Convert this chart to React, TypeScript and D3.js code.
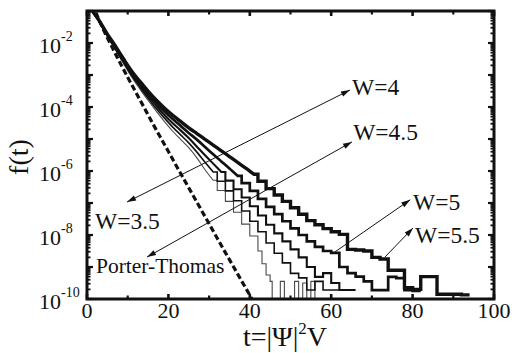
import React from 'react';
import * as d3 from 'd3';

// ---- data (t, log10 f); histogram bins of width 2 start at t ----
const xMajorTicks = [0, 20, 40, 60, 80, 100];
const xMinorTicks = [10, 30, 50, 70, 90];
const yLabelExponents = [-10, -8, -6, -4, -2];
const yDecades = [-10, -9, -8, -7, -6, -5, -4, -3, -2, -1];

const porterThomas: [number, number][] = [
  [1.5, -0.78], [2, -0.98], [3, -1.29], [4, -1.57], [5, -1.84], [6, -2.09], [8, -2.59], [10, -3.07],
  [12, -3.54], [14, -4.01], [16, -4.48], [18, -4.94], [20, -5.39], [22, -5.85], [24, -6.3], [26, -6.75],
  [28, -7.2], [30, -7.65], [32, -8.1], [34, -8.55], [36, -8.99], [38, -9.44], [40, -9.88], [41, -10.11],
];

const w55: [number, number][] = [
  [0, -0.9], [2, -1.3], [4, -1.72], [6, -2.1], [8, -2.5], [10, -2.88], [12, -3.2], [14, -3.5], [16, -3.78],
  [18, -4.03], [20, -4.25], [22, -4.45], [24, -4.65], [26, -4.83], [28, -5.01], [30, -5.19], [32, -5.37],
  [34, -5.55], [36, -5.73], [38, -5.91], [40, -6.1], [42, -6.32], [44, -6.55], [46, -6.75], [48, -6.95],
  [50, -7.15], [52, -7.35], [54, -7.55], [56, -7.68], [58, -7.8], [60, -7.9], [62, -7.98], [64, -8.45],
  [66, -8.47], [68, -8.5], [70, -8.7], [72, -8.75], [74, -9.1], [76, -9.1], [78, -9.65], [80, -9.7],
  [82, -9.3], [84, -9.3], [86, -9.85], [88, -9.85], [90, -9.85], [92, -9.87], [94, -9.87],
];

const w5: [number, number][] = [
  [0, -0.9], [2, -1.31], [4, -1.74], [6, -2.13], [8, -2.54], [10, -2.93], [12, -3.26], [14, -3.57], [16, -3.86],
  [18, -4.13], [20, -4.37], [22, -4.59], [24, -4.81], [26, -5.02], [28, -5.25], [30, -5.48], [32, -5.7],
  [34, -5.92], [36, -6.15], [38, -6.38], [40, -6.62], [42, -6.87], [44, -7.12], [46, -7.35], [48, -7.57],
  [50, -7.79], [52, -8.0], [54, -8.2], [56, -8.37], [58, -8.5], [60, -8.56], [62, -9.0], [64, -9.19],
  [66, -9.3], [68, -9.45], [70, -9.72], [72, -9.72], [74, -9.31], [76, -9.35], [78, -9.72], [80, -9.75], [82, -9.75],
];

const w45: [number, number][] = [
  [0, -0.9], [2, -1.32], [4, -1.76], [6, -2.16], [8, -2.58], [10, -2.98], [12, -3.33], [14, -3.65], [16, -3.96],
  [18, -4.24], [20, -4.5], [22, -4.73], [24, -4.97], [26, -5.24], [28, -5.51], [30, -5.77], [32, -6.03],
  [34, -6.3], [36, -6.57], [38, -6.83], [40, -7.1], [42, -7.39], [44, -7.68], [46, -7.95], [48, -8.2],
  [50, -8.45], [52, -8.7], [54, -9.0], [56, -9.31], [58, -9.19], [60, -9.5], [62, -9.72], [64, -9.72], [66, -9.72],
];

const w4: [number, number][] = [
  [0, -0.9], [2, -1.33], [4, -1.78], [6, -2.19], [8, -2.61], [10, -3.02], [12, -3.38], [14, -3.72], [16, -4.05],
  [18, -4.34], [20, -4.62], [22, -4.87], [24, -5.12], [26, -5.41], [28, -5.73], [30, -6.03], [32, -6.32],
  [34, -6.62], [36, -6.93], [38, -7.25], [40, -7.57], [42, -7.9], [44, -8.25], [46, -8.57], [48, -8.87],
  [50, -9.2], [52, -9.34], [54, -9.72], [56, -9.45], [58, -9.72], [60, -9.72], [62, -9.72], [64, -9.72],
];

const w35: [number, number][] = [
  [0, -0.9], [2, -1.34], [4, -1.8], [6, -2.22], [8, -2.65], [10, -3.07], [12, -3.44], [14, -3.79], [16, -4.13],
  [18, -4.45], [20, -4.75], [22, -5.01], [24, -5.27], [26, -5.59], [28, -5.96], [30, -6.29], [32, -6.61],
  [34, -6.95], [36, -7.29], [38, -7.66], [40, -8.03], [42, -8.5], [43, -8.9], [44, -9.25], [45, -9.45],
  [45.5, -10.5], [47.5, -9.45], [48.5, -10.5], [51, -9.45], [52, -10.5], [53, -9.5], [54, -10.5],
  [55, -9.45], [56, -10.5], [57, -10.5],
];

// annotations in data coordinates (t, log10 f)
const annotationLabels: { text: string; t: number; lf: number; size: number }[] = [
  { text: 'W=4', t: 65.1, lf: -3.63, size: 23.5 },
  { text: 'W=4.5', t: 65.4, lf: -5.03, size: 23.5 },
  { text: 'W=5', t: 80.1, lf: -7.22, size: 23.5 },
  { text: 'W=5.5', t: 80.6, lf: -8.25, size: 23.5 },
  { text: 'W=3.5', t: 1.97, lf: -7.81, size: 23.5 },
  { text: 'Porter-Thomas', t: 2.2, lf: -9.19, size: 21.5 },
];
const arrows: { t1: number; lf1: number; t2: number; lf2: number; startHead: boolean }[] = [
  { t1: 9.83, lf1: -6.97, t2: 64.6, lf2: -3.47, startHead: true },
  { t1: 14.74, lf1: -8.69, t2: 65.1, lf2: -5.09, startHead: true },
  { t1: 60.9, lf1: -8.53, t2: 79.4, lf2: -6.9, startHead: false },
  { t1: 73.2, lf1: -8.69, t2: 80.1, lf2: -7.78, startHead: false },
];

const curves = [
  { data: w35, width: 1.1, color: '#4a4a4a' },
  { data: w4, width: 1.6, color: '#111' },
  { data: w45, width: 2.1, color: '#111' },
  { data: w5, width: 2.7, color: '#111' },
  { data: w55, width: 3.4, color: '#111' },
];

const W = 516;
const H = 353;
const FONT = "Liberation Serif, Times New Roman, DejaVu Serif, serif";
const BIN = 2;
const SMOOTH_LIMIT = -6; // above this level the histogram is drawn as a smooth line

export default function App() {
  const x = d3.scaleLinear().domain([0, 100]).range([87, 494]);
  const y = d3.scaleLog().domain([1e-10, 1e-1]).range([299, 11]);
  const [x0, x1] = x.range();
  const [yb, yt] = y.range();
  const Y = (lf: number) => y(Math.pow(10, lf));

  const smooth = d3
    .line<[number, number]>()
    .x((d) => x(d[0]))
    .y((d) => Y(d[1]))
    .curve(d3.curveMonotoneX);
  const step = d3
    .line<[number, number]>()
    .x((d) => x(d[0]))
    .y((d) => Y(d[1]))
    .curve(d3.curveStepAfter);

  const curvePath = (data: [number, number][]) => {
    let k = data.findIndex((d) => d[1] < SMOOTH_LIMIT);
    if (k < 0) k = data.length - 1;
    const head: [number, number][] = [[0, data[0][1] + 0.35], ...data.slice(0, k + 1).map((d) => [d[0] + BIN / 2, d[1]] as [number, number])];
    const tail: [number, number][] = [[data[k][0] + BIN / 2, data[k][1]], ...data.slice(k + 1)];
    return (smooth(head) || '') + (step(tail) || '').replace(/^M/, 'L');
  };

  const minorY: number[] = [];
  yDecades.forEach((e) => {
    if (e >= -1) return;
    for (let m = 2; m <= 9; m++) minorY.push(m * Math.pow(10, e));
  });

  const arrowHead = (xa: number, ya: number, xb: number, yb2: number) => {
    const ang = Math.atan2(yb2 - ya, xb - xa);
    const L = 9;
    const hw = 2.8;
    const bx = xb - L * Math.cos(ang);
    const by = yb2 - L * Math.sin(ang);
    const px = -Math.sin(ang) * hw;
    const py = Math.cos(ang) * hw;
    return `M${xb},${yb2}L${bx + px},${by + py}L${bx - px},${by - py}Z`;
  };

  const txt = { fontFamily: FONT };

  return (
    <svg
      width={W}
      height={H}
      viewBox={`0 0 ${W} ${H}`}
      style={{ position: 'absolute', left: 0, top: 0, display: 'block', background: '#fff', fontFamily: FONT }}
    >
      <defs>
        <clipPath id="plotClip">
          <rect x={x0} y={yt} width={x1 - x0} height={yb - yt} />
        </clipPath>
      </defs>

      <g clipPath="url(#plotClip)">
        <path
          d={smooth(porterThomas) || ''}
          fill="none"
          stroke="#111"
          strokeWidth={3.2}
          strokeDasharray="6,3"
        />
        {curves.map((c, i) => (
          <path
            key={i}
            d={curvePath(c.data)}
            fill="none"
            stroke={c.color}
            strokeWidth={c.width}
            strokeLinejoin="miter"
          />
        ))}
      </g>

      {arrows.map((a, i) => {
        const ax = x(a.t1), ay = Y(a.lf1);
        const bx = x(a.t2), by = Y(a.lf2);
        return (
          <g key={i}>
            <line x1={ax} y1={ay} x2={bx} y2={by} stroke="#111" strokeWidth={1} />
            <path d={arrowHead(ax, ay, bx, by)} fill="#111" />
            {a.startHead && <path d={arrowHead(bx, by, ax, ay)} fill="#111" />}
          </g>
        );
      })}

      {annotationLabels.map((l, i) => (
        <text key={i} x={x(l.t)} y={Y(l.lf)} fontSize={l.size} fill="#111" style={txt}>
          {l.text}
        </text>
      ))}

      <rect x={x0} y={yt} width={x1 - x0} height={yb - yt} fill="none" stroke="#111" strokeWidth={3} />

      {yDecades.map((e) => {
        const yy = Y(e);
        return (
          <g key={'yM' + e}>
            <line x1={x0} x2={x0 + 6} y1={yy} y2={yy} stroke="#111" strokeWidth={2.2} />
            <line x1={x1} x2={x1 - 6} y1={yy} y2={yy} stroke="#111" strokeWidth={2.2} />
          </g>
        );
      })}
      {minorY.map((v, i) => {
        const yy = y(v);
        return (
          <g key={'ym' + i}>
            <line x1={x0 - 1} x2={x0 + 3.5} y1={yy} y2={yy} stroke="#111" strokeWidth={1.8} />
            <line x1={x1 + 1} x2={x1 - 3.5} y1={yy} y2={yy} stroke="#111" strokeWidth={1.8} />
          </g>
        );
      })}

      {xMajorTicks.map((t) => (
        <g key={'xM' + t}>
          <line x1={x(t)} x2={x(t)} y1={yb} y2={yb - 5} stroke="#111" strokeWidth={2.6} />
          <line x1={x(t)} x2={x(t)} y1={yt} y2={yt + 5} stroke="#111" strokeWidth={2.6} />
        </g>
      ))}
      {xMinorTicks.map((t) => (
        <g key={'xm' + t}>
          <line x1={x(t)} x2={x(t)} y1={yb} y2={yb - 3.5} stroke="#111" strokeWidth={2.2} />
          <line x1={x(t)} x2={x(t)} y1={yt} y2={yt + 3.5} stroke="#111" strokeWidth={2.2} />
        </g>
      ))}

      {xMajorTicks.map((t) => (
        <text key={'xl' + t} x={x(t)} y={318} fontSize={22} textAnchor="middle" fill="#111" style={txt}>
          {t}
        </text>
      ))}

      {yLabelExponents.map((e) => {
        const yy = Y(e);
        return (
          <text key={'yl' + e} x={39} y={yy + 9.5} fontSize={22} fill="#111" style={txt}>
            10
            <tspan fontSize={14} dy={-11.5}>
              {String(e)}
            </tspan>
          </text>
        );
      })}

      <text x={285} y={346} fontSize={28} textAnchor="middle" fill="#111" style={txt}>
        t=|Ψ|
        <tspan fontSize={17} dy={-12}>2</tspan>
        <tspan dy={12}>V</tspan>
      </text>
      <text transform="translate(28,157) rotate(-90)" fontSize={28} textAnchor="middle" fill="#111" style={txt}>
        f(t)
      </text>
    </svg>
  );
}
